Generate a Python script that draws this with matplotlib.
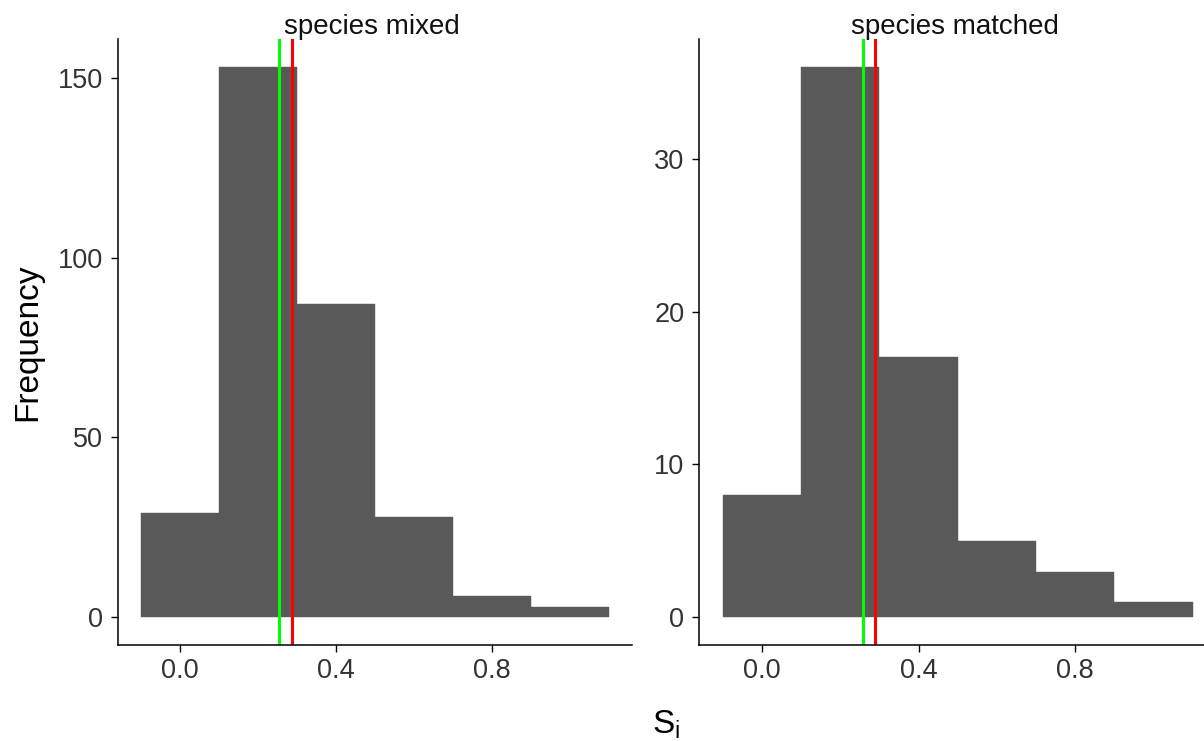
import numpy as np
import matplotlib
matplotlib.use('Agg')
from matplotlib import pyplot as plt
from matplotlib import transforms

plt.rcParams['font.family'] = ['Liberation Sans', 'DejaVu Sans']

bin_edges = [-0.1, 0.1, 0.3, 0.5, 0.7, 0.9, 1.1]
mixed_counts = [29, 153, 87, 28, 6, 3]
matched_counts = [8, 36, 17, 5, 3, 1]
mixed_lines = [0.255, 0.286]      # green, red
matched_lines = [0.257, 0.288]
line_colors = ['#00FF00', '#FF0000']
titles = ['species mixed', 'species matched']
yticks_mixed = [0, 50, 100, 150]
yticks_matched = [0, 10, 20, 30]
xticks = [0.0, 0.4, 0.8]

fig = plt.figure(figsize=(12.04, 7.41), dpi=100)
ax1 = fig.add_axes([0.0978, 0.1296, 0.4272, 0.8174])
ax2 = fig.add_axes([0.5808, 0.1296, 0.4294, 0.8174])

panels = [
    (ax1, mixed_counts, mixed_lines, yticks_mixed, titles[0]),
    (ax2, matched_counts, matched_lines, yticks_matched, titles[1]),
]

for ax, counts, vlines, yticks, title in panels:
    left = np.array(bin_edges[:-1])
    widths = np.diff(bin_edges)
    ax.bar(left, counts, width=widths, align='edge', color='#595959',
           edgecolor='#595959', linewidth=0.3, zorder=1)
    for v, c in zip(vlines, line_colors):
        ax.axvline(v, color=c, lw=2.2, zorder=2)

    top = max(counts)
    pad = 0.05 * top
    ax.set_ylim(-pad, top + pad)
    span = bin_edges[-1] - bin_edges[0]
    ax.set_xlim(bin_edges[0] - 0.05 * span, bin_edges[-1] + 0.05 * span)

    ax.set_xticks(xticks)
    ax.set_xticklabels(['%.1f' % t for t in xticks])
    ax.set_yticks(yticks)
    ax.tick_params(axis='both', direction='out', length=5.2, width=1,
                   colors='black', labelcolor='#333333', labelsize=19.5)
    ax.tick_params(axis='x', pad=4)
    ax.tick_params(axis='y', pad=5.5)
    for s in ['top', 'right']:
        ax.spines[s].set_visible(False)
    for s in ['left', 'bottom']:
        ax.spines[s].set_linewidth(1.1)

    off = transforms.ScaledTranslation(0, 4 / 72, fig.dpi_scale_trans)
    ax.text(0.492, 1.0, title, transform=ax.get_xaxis_transform() + off,
            ha='center', va='baseline', fontsize=20, color='#111111', clip_on=False)

fig.text(0.023, 0.538, 'Frequency', rotation=90, ha='center', va='center', fontsize=24)
fig.text(0.553, 0.011, r'S$_\mathregular{i}$', ha='center', va='baseline', fontsize=24)

fig.savefig('out.png', dpi=100)
